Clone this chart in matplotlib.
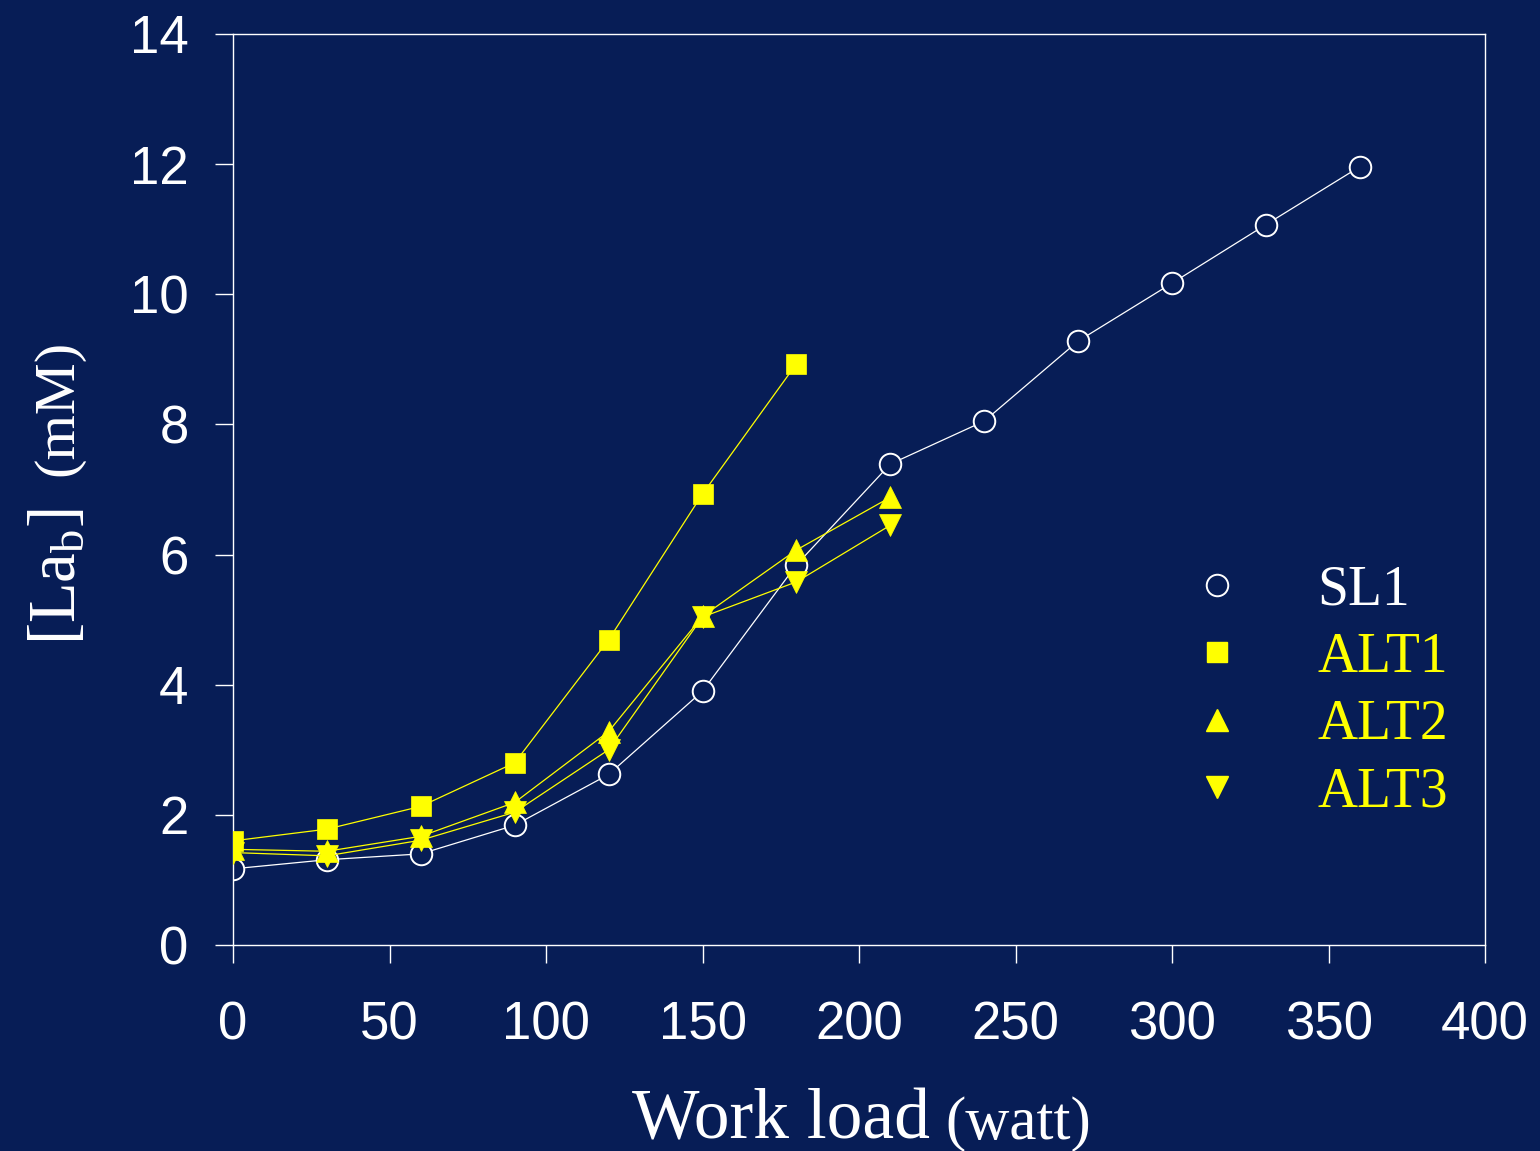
import numpy as np
import matplotlib
matplotlib.use('Agg')
import matplotlib.pyplot as plt
from matplotlib.lines import Line2D

# workload (watt) vs blood lactate (mM)
load_sl1 = [0, 30, 60, 90, 120, 150, 180, 210, 240, 270, 300, 330, 360]
lab_sl1 = [1.17, 1.31, 1.40, 1.84, 2.62, 3.90, 5.84, 7.39, 8.05, 9.28, 10.17, 11.07, 11.96]

load_alt1 = [0, 30, 60, 90, 120, 150, 180]
lab_alt1 = [1.60, 1.78, 2.13, 2.80, 4.69, 6.93, 8.93]

load_alt2 = [0, 30, 60, 90, 120, 150, 180, 210]
lab_alt2 = [1.47, 1.44, 1.67, 2.19, 3.28, 5.05, 6.07, 6.88]

load_alt3 = [0, 30, 60, 90, 120, 150, 180, 210]
lab_alt3 = [1.42, 1.37, 1.61, 2.04, 3.00, 5.04, 5.58, 6.45]

series_names = ['SL1', 'ALT1', 'ALT2', 'ALT3']

bg = '#071D56'
yel = '#FFFF00'

plt.rcParams['mathtext.fontset'] = 'custom'
plt.rcParams['mathtext.rm'] = 'Liberation Serif'
plt.rcParams['mathtext.it'] = 'Liberation Serif'

fig = plt.figure(figsize=(15.4, 11.51), dpi=100, facecolor=bg)
ax = fig.add_axes([0.1513, 0.179, 0.813, 0.7915])
ax.set_facecolor(bg)

ax.plot(load_sl1, lab_sl1, '-', color='white', lw=0.9, marker='o', ms=15.5,
        mfc=bg, mec='white', mew=1.4, zorder=2)
ax.plot(load_alt1, lab_alt1, '-', color=yel, lw=0.9, marker='s', ms=14.5,
        mfc=yel, mec=yel, mew=0.5, zorder=3)
ax.plot(load_alt2, lab_alt2, '-', color=yel, lw=0.9, marker='^', ms=15.5,
        mfc=yel, mec=yel, mew=0.5, zorder=3)
ax.plot(load_alt3, lab_alt3, '-', color=yel, lw=0.9, marker='v', ms=15.5,
        mfc=yel, mec=yel, mew=0.5, zorder=3)

ax.set_xlim(0, 400)
ax.set_ylim(0, 14)
ax.set_xticks(np.arange(0, 401, 50))
ax.set_yticks(np.arange(0, 15, 2))
for s in ax.spines.values():
    s.set_color('white')
    s.set_linewidth(1.0)
ax.tick_params(colors='white', length=13, width=1.0, direction='out')
ax.tick_params(axis='x', pad=27)
ax.tick_params(axis='y', pad=19)
for lbl in ax.get_xticklabels() + ax.get_yticklabels():
    lbl.set_fontfamily('Liberation Sans')
    lbl.set_fontsize(38)
    lbl.set_color('white')

# legend: markers only
handles = [
    Line2D([], [], ls='none', marker='o', ms=15.5, mfc=bg, mec='white', mew=1.4),
    Line2D([], [], ls='none', marker='s', ms=14.5, mfc=yel, mec=yel),
    Line2D([], [], ls='none', marker='^', ms=15.5, mfc=yel, mec=yel),
    Line2D([], [], ls='none', marker='v', ms=15.5, mfc=yel, mec=yel),
]
leg = ax.legend(handles, series_names, loc='upper left',
                bbox_to_anchor=(0.724, 0.473), frameon=False,
                numpoints=1, handlelength=1.0, handletextpad=1.3,
                labelspacing=0.28,
                prop={'family': 'Liberation Serif', 'size': 40})
for txt, c in zip(leg.get_texts(), ['white', yel, yel, yel]):
    txt.set_color(c)

# axis labels in mixed sizes
fig.text(930 / 1540, 1 - 1139 / 1151, 'Work load', ha='right', va='baseline',
         fontsize=51.5, family='Liberation Serif', color='white')
fig.text(945 / 1540, 1 - 1139 / 1151, '(watt)', ha='left', va='baseline',
         fontsize=44, family='Liberation Serif', color='white')
fig.text(75 / 1540, 1 - 645 / 1151, r'[La$_{\rm b}$]', rotation=90,
         rotation_mode='anchor', ha='left', va='baseline',
         fontsize=48, family='Liberation Serif', color='white')
fig.text(72 / 1540, 1 - 476 / 1151, '(mM)', rotation=90,
         rotation_mode='anchor', ha='left', va='baseline',
         fontsize=42, family='Liberation Serif', color='white')

fig.savefig('out.png', dpi=100, facecolor=bg)
